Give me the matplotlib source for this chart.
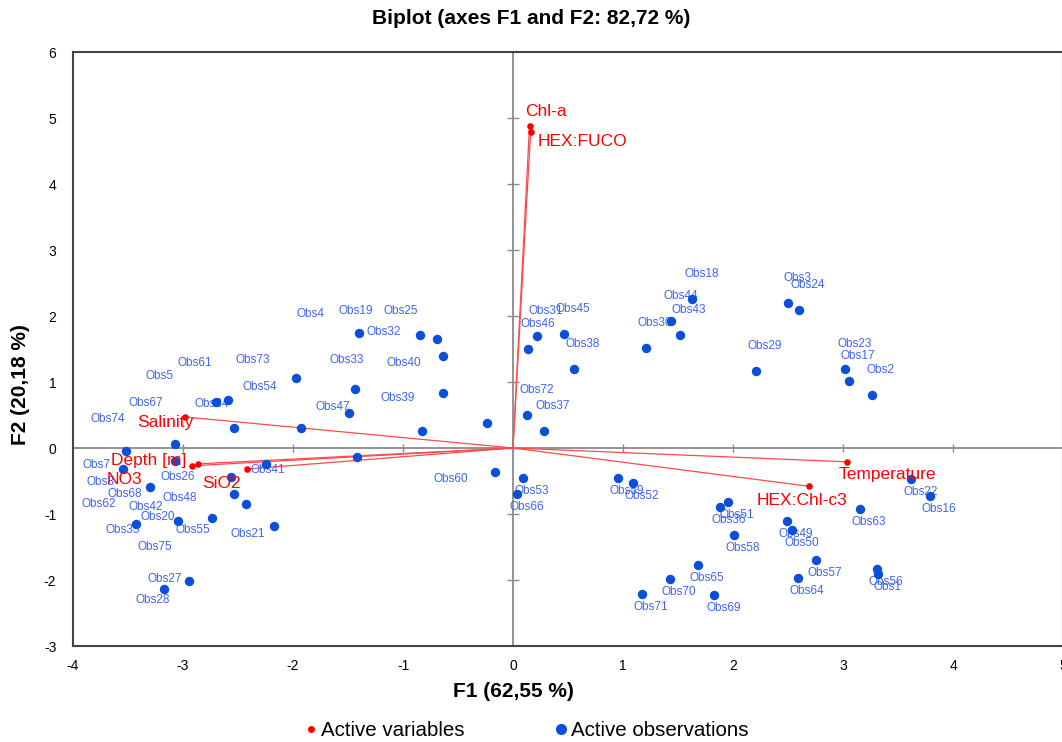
import numpy as np
import matplotlib.pyplot as plt
from matplotlib.lines import Line2D

plt.rcParams['font.family'] = ['Liberation Sans', 'DejaVu Sans']
plt.rcParams['axes.unicode_minus'] = False

# active variables (loadings scaled as in the biplot)
var_names = ['Chl-a', 'HEX:FUCO', 'Salinity', 'Depth [m]', 'NO3', 'SiO2',
             'Temperature', 'HEX:Chl-c3']
var_x = [0.15, 0.16, -2.98, -2.86, -2.92, -2.42, 3.04, 2.69]
var_y = [4.88, 4.79, 0.47, -0.24, -0.27, -0.32, -0.21, -0.58]

# active observations (F1, F2 scores)
obs_names = ['Obs1', 'Obs2', 'Obs3', 'Obs4', 'Obs5', 'Obs7', 'Obs8', 'Obs16',
             'Obs17', 'Obs18', 'Obs19', 'Obs20', 'Obs21', 'Obs22', 'Obs23',
             'Obs24', 'Obs25', 'Obs26', 'Obs27', 'Obs28', 'Obs29', 'Obs30',
             'Obs31', 'Obs32', 'Obs33', 'Obs34', 'Obs35', 'Obs36', 'Obs37',
             'Obs38', 'Obs39', 'Obs40', 'Obs41', 'Obs42', 'Obs43', 'Obs44',
             'Obs45', 'Obs46', 'Obs47', 'Obs48', 'Obs49', 'Obs50', 'Obs51',
             'Obs52', 'Obs53', 'Obs54', 'Obs55', 'Obs56', 'Obs57', 'Obs58',
             'Obs59', 'Obs60', 'Obs61', 'Obs62', 'Obs63', 'Obs64', 'Obs65',
             'Obs66', 'Obs67', 'Obs68', 'Obs69', 'Obs70', 'Obs71', 'Obs72',
             'Obs73', 'Obs74', 'Obs75']
obs_x = [3.32, 3.26, 2.50, -1.97, -0.24, -3.55, -2.56, 3.79,
         3.05, 1.63, -1.40, -3.05, -2.17, 3.62, 3.02,
         2.60, -0.85, -3.07, -2.95, -3.17, 2.21, 1.21,
         0.22, -0.69, -1.44, -2.54, -3.43, 1.88, 0.28,
         0.55, -0.64, -0.64, -2.25, -3.30, 1.52, 1.44,
         0.46, 0.14, -1.49, -2.54, 2.49, 2.54, 1.95,
         1.09, 0.09, -1.93, -2.74, 3.31, 2.75, 2.01,
         0.95, -0.16, -2.70, -0.83, 3.15, 2.59, 1.68,
         0.04, -3.07, -2.43, 1.83, 1.43, 1.17, 0.13,
         -2.59, -3.52, -1.42]
obs_y = [-1.91, 0.80, 2.20, 1.06, 0.38, -0.32, -0.44, -0.73,
         1.02, 2.26, 1.74, -1.11, -1.18, -0.47, 1.20,
         2.09, 1.71, -0.20, -2.02, -2.14, 1.17, 1.52,
         1.70, 1.65, 0.89, 0.30, -1.15, -0.89, 0.26,
         1.20, 0.83, 1.39, -0.24, -0.59, 1.71, 1.92,
         1.73, 1.50, 0.53, -0.70, -1.11, -1.24, -0.82,
         -0.53, -0.45, 0.30, -1.06, -1.83, -1.70, -1.32,
         -0.45, -0.36, 0.70, 0.26, -0.92, -1.97, -1.77,
         -0.70, 0.06, -0.85, -2.23, -1.98, -2.21, 0.50,
         0.73, -0.05, -0.14]

# label shifts (pixels) where the label is not in its usual spot
obs_shift = {
    'Obs19': (-3, 22), 'Obs25': (-19, 24), 'Obs32': (-53, 7), 'Obs40': (-39, -7),
    'Obs33': (-8, 29), 'Obs39': (-45, -5), 'Obs47': (-16, 6), 'Obs4': (14, 64),
    'Obs73': (25, 40), 'Obs61': (-21, 39), 'Obs54': (-41, 41), 'Obs34': (-22, 24),
    'Obs67': (-29, 41), 'Obs74': (-18, 32), 'Obs7': (-26, 4), 'Obs26': (2, -16),
    'Obs41': (2, -6), 'Obs48': (-54, -4), 'Obs42': (-4, -20), 'Obs20': (-20, 4),
    'Obs35': (-13, -6), 'Obs55': (-19, -12), 'Obs21': (-27, -8), 'Obs27': (-24, 2),
    'Obs28': (-12, -11), 'Obs60': (-45, -7), 'Obs68': (-121, 10), 'Obs8': (-131, -5),
    'Obs5': (-327, 47), 'Obs62': (-323, -73), 'Obs75': (-202, -90),
}
var_shift = {
    'Chl-a': (16, 14), 'HEX:FUCO': (52, -10), 'Salinity': (-20, -6),
    'Depth [m]': (-50, 3), 'NO3': (-67, -14), 'SiO2': (-25, -14),
    'Temperature': (40, -13), 'HEX:Chl-c3': (-7, -14),
}

red = '#ff0000'
blue_dot = '#0a4fd8'
blue_txt = '#3d63f0'

fig = plt.figure(figsize=(10.62, 7.42), dpi=100)
ax = fig.add_axes([73 / 1062, 96 / 742, 990 / 1062, 594 / 742])
ax.set_xlim(-4, 5)
ax.set_ylim(-3, 6)

# axes through the origin with small cross ticks
ax.axhline(0, color='#8a8a8a', lw=1.3, zorder=1)
ax.axvline(0, color='#8a8a8a', lw=1.3, zorder=1)
xt = np.arange(-3, 5)
yt = np.arange(-2, 6)
ax.plot(xt, np.zeros(len(xt)), ls='none', marker='|', ms=6, color='#8a8a8a', zorder=1)
ax.plot(np.zeros(len(yt)), yt, ls='none', marker='_', ms=8, color='#8a8a8a', zorder=1)

# variable vectors
for i in range(len(var_names)):
    ax.plot([0, var_x[i]], [0, var_y[i]], color='#ff4a4a', lw=0.9, zorder=2)
ax.scatter(var_x, var_y, s=14, color=red, zorder=5)

# observations
ax.scatter(obs_x, obs_y, s=46, color=blue_dot, zorder=4, linewidths=0)
for i, name in enumerate(obs_names):
    if name in obs_shift:
        off = obs_shift[name]
    elif obs_y[i] > 0:
        off = (9, 25)
    else:
        off = (9, -13)
    ax.annotate(name, (obs_x[i], obs_y[i]), xytext=off, textcoords='offset pixels',
                ha='center', va='center', fontsize=8.5, color=blue_txt, zorder=3)

for i, name in enumerate(var_names):
    ax.annotate(name, (var_x[i], var_y[i]), xytext=var_shift[name],
                textcoords='offset pixels', ha='center', va='center',
                fontsize=12.5, color=red, zorder=6)

for s in ['left', 'top', 'bottom', 'right']:
    ax.spines[s].set_color('#444444')
    ax.spines[s].set_linewidth(1.5)

ax.set_xticks(np.arange(-4, 6))
ax.set_yticks(np.arange(-3, 7))
ax.tick_params(axis='x', length=0, pad=9, labelsize=10)
ax.tick_params(axis='y', length=0, pad=12, labelsize=10)

ax.set_xlabel('F1 (62,55 %)', fontsize=15, fontweight='bold')
ax.xaxis.set_label_coords(0.445, -0.060)
ax.set_ylabel('F2 (20,18 %)', fontsize=15, fontweight='bold')
ax.yaxis.set_label_coords(-0.043, 0.44)

fig.text(0.5, 1 - 18 / 742, 'Biplot (axes F1 and F2: 82,72 %)', ha='center',
         va='center', fontsize=15, fontweight='bold')

handles = [Line2D([], [], ls='none', marker='o', ms=4, color=red),
           Line2D([], [], ls='none', marker='o', ms=7, color=blue_dot)]
fig.legend(handles, ['Active variables', 'Active observations'], loc='center',
           bbox_to_anchor=(0.495, 11 / 742), ncol=2, frameon=False, fontsize=14.8,
           handletextpad=0.1, columnspacing=4.3, handlelength=0.8)

fig.savefig('out.png', dpi=100)
